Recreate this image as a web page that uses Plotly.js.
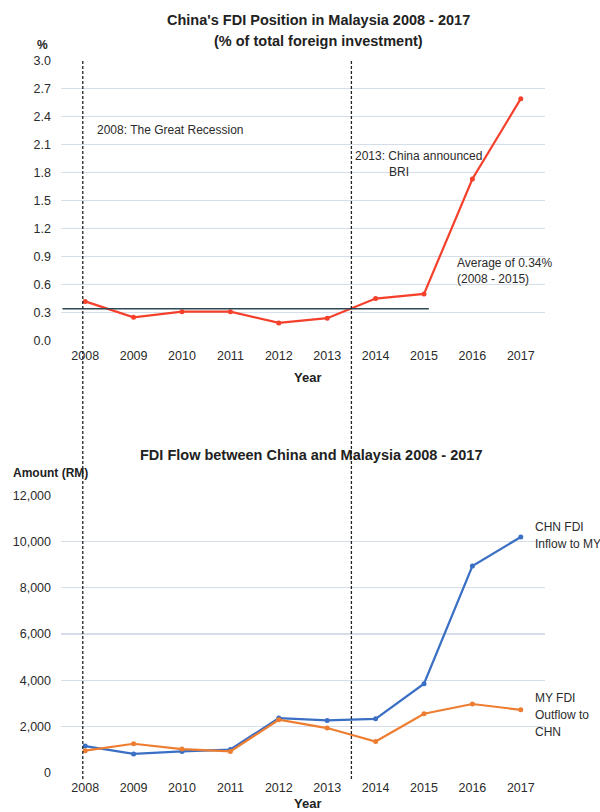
<!DOCTYPE html>
<html><head><meta charset="utf-8">
<script src="https://cdn.plot.ly/plotly-3.0.1.min.js"></script>
<style>html,body{margin:0;padding:0;background:#fff}</style>
</head><body><div id="chart" style="width:600px;height:812px"></div>
<script>
// ---- data ----
const years = ['2008','2009','2010','2011','2012','2013','2014','2015','2016','2017'];
const fdiShare = [0.42, 0.25, 0.31, 0.31, 0.19, 0.24, 0.45, 0.50, 1.73, 2.59];
const averageShare = 0.34;
const chnInflow = [1150, 810, 920, 1000, 2360, 2260, 2330, 3850, 8940, 10200];
const myOutflow = [950, 1250, 1020, 920, 2290, 1930, 1350, 2550, 2970, 2720];
const topTicks = [0, 0.3, 0.6, 0.9, 1.2, 1.5, 1.8, 2.1, 2.4, 2.7, 3.0];
const topTickText = ['0.0','0.3','0.6','0.9','1.2','1.5','1.8','2.1','2.4','2.7','3.0'];
const bottomTicks = [0, 2000, 4000, 6000, 8000, 10000, 12000];
const bottomTickText = ['0','2,000','4,000','6,000','8,000','10,000','12,000'];

// ---- layout helpers ----
const W = 600, H = 812, ML = 61, MR = 55;
const PW = W - ML - MR;
const px = v => (v - ML) / PW;
const py = v => 1 - v / H;
const FONT = 'Liberation Sans, Arial, Helvetica, sans-serif';
const TXT = '#2b2b2b';
const GRID = '#d5dee8';

const traces = [
  {x: years, y: fdiShare, type: 'scatter', mode: 'lines+markers', xaxis: 'x', yaxis: 'y', name: "China's FDI position (%)",
   line: {color: '#f5402c', width: 2.2}, marker: {color: '#f5402c', size: 5}, showlegend: false},
  {x: years, y: chnInflow, type: 'scatter', mode: 'lines+markers', xaxis: 'x2', yaxis: 'y2', name: 'CHN FDI Inflow to MY',
   line: {color: '#3a6fc4', width: 2.2}, marker: {color: '#3a6fc4', size: 5}, showlegend: false},
  {x: years, y: myOutflow, type: 'scatter', mode: 'lines+markers', xaxis: 'x2', yaxis: 'y2', name: 'MY FDI Outflow to CHN',
   line: {color: '#ed7d31', width: 2.2}, marker: {color: '#ed7d31', size: 5}, showlegend: false}
];

const xCommon = {type: 'category', range: [-0.5, 9.5], showgrid: false, zeroline: false, showline: false,
  ticks: '', ticklabelstandoff: 5, tickfont: {family: FONT, size: 12.5, color: TXT}, fixedrange: true};
const yCommon = {showgrid: true, gridcolor: GRID, gridwidth: 1.2, zeroline: false, showline: false, ticks: '',
  ticklabelstandoff: 9, tickfont: {family: FONT, size: 12.5, color: TXT}, fixedrange: true, tickmode: 'array'};

const ann = (text, x, y, opts = {}) => Object.assign({text, x: px(x), y: py(y), xref: 'paper', yref: 'paper',
  showarrow: false, xanchor: 'left', yanchor: 'middle', align: 'left',
  font: {family: FONT, size: 12, color: TXT}}, opts);
const titleFont = {family: FONT, size: 14.5, color: '#222'};

const layout = {
  width: W, height: H,
  margin: {l: ML, r: MR, t: 0, b: 0},
  paper_bgcolor: '#fff', plot_bgcolor: '#fff',
  xaxis: Object.assign({}, xCommon, {anchor: 'y', domain: [0, 1]}),
  yaxis: Object.assign({}, yCommon, {anchor: 'x', domain: [py(341), py(60)], range: [-0.004, 3.004],
    tickvals: topTicks, ticktext: topTickText}),
  xaxis2: Object.assign({}, xCommon, {anchor: 'y2', domain: [0, 1]}),
  yaxis2: Object.assign({}, yCommon, {anchor: 'x2', domain: [py(773), py(495)], range: [-15, 12015],
    tickvals: bottomTicks, ticktext: bottomTickText}),
  shapes: [
    {type: 'line', xref: 'x', yref: 'y', x0: -0.47, x1: 7.1, y0: averageShare, y1: averageShare,
     line: {color: '#2e4855', width: 1.5}},
    {type: 'line', xref: 'x', yref: 'paper', x0: -0.05, x1: -0.05, y0: py(779), y1: py(60),
     line: {color: '#222', width: 1.3, dash: '3px,2px'}},
    {type: 'line', xref: 'x', yref: 'paper', x0: 5.5, x1: 5.5, y0: py(779), y1: py(60),
     line: {color: '#222', width: 1.3, dash: '3px,2px'}}
  ],
  annotations: [
    ann("<b>China's FDI Position in Malaysia 2008 - 2017</b>", 318, 20, {xanchor: 'center', font: titleFont}),
    ann("<b>(% of total foreign investment)</b>", 318, 41, {xanchor: 'center', font: titleFont}),
    ann("<b>%</b>", 42, 45, {xanchor: 'center', font: {family: FONT, size: 12, color: '#222'}}),
    ann("<b>Year</b>", 307, 377, {xanchor: 'center', font: {family: FONT, size: 13, color: '#222'}}),
    ann("2008: The Great Recession", 95, 130),
    ann("2013: China announced", 353, 156),
    ann("BRI", 387, 172),
    ann("Average of 0.34%", 455, 263),
    ann("(2008 - 2015)", 455, 279),
    ann("<b>FDI Flow between China and Malaysia 2008 - 2017</b>", 311, 455, {xanchor: 'center', font: titleFont}),
    ann("<b>Amount (RM)</b>", 11, 473, {font: {family: FONT, size: 12, color: '#222'}}),
    ann("<b>Year</b>", 307, 803, {xanchor: 'center', font: {family: FONT, size: 13, color: '#222'}}),
    ann("CHN FDI", 533, 527),
    ann("Inflow to MY", 533, 544),
    ann("MY FDI", 533, 698),
    ann("Outflow to", 533, 715),
    ann("CHN", 533, 732)
  ]
};

Plotly.newPlot('chart', traces, layout, {displayModeBar: false, staticPlot: true});
</script>
</body></html>
